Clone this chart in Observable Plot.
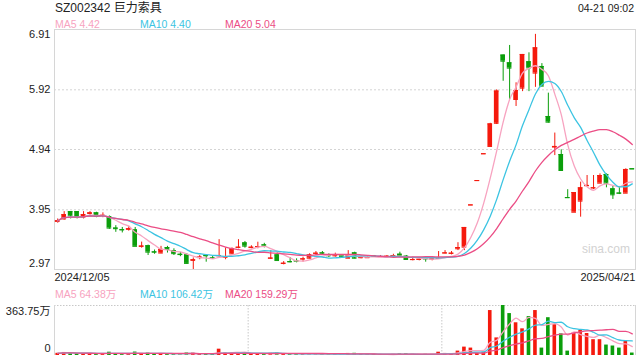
<!DOCTYPE html>
<html><head><meta charset="utf-8">
<script src="https://cdn.jsdelivr.net/npm/d3@7"></script>
<script src="https://cdn.jsdelivr.net/npm/@observablehq/plot@0.6"></script>
<style>
body{margin:0;background:#fff;}
#wrap{position:relative;width:640px;height:360px;overflow:hidden;font-family:Arial,"Liberation Sans","Noto Sans CJK SC",sans-serif;}
.t{position:absolute;white-space:nowrap;line-height:1;}
.p{position:absolute;left:0;}
</style></head><body><div id="wrap"></div>
<script>
const title = "SZ002342 巨力索具";
const stamp = "04-21 09:02";
const dates = ["2024/12/05", "2025/04/21"];
const maNames = ["MA5", "MA10", "MA20"];
const maPeriods = [5, 10, 20];
const maColors = ["#f7a3c0", "#3cc4e2", "#eb4d85"];
const priceMALast = ["4.42", "4.40", "5.04"];
const volMALast = ["64.38万", "106.42万", "159.29万"];
const priceTicks = [2.97, 3.95, 4.94, 5.92, 6.91];
const volTicks = [0, 363.75];
const volTickLabels = ["0", "363.75万"];
const volGrid = [30, 60];
const watermark = "sina.com";

const open = [3.76,3.80,3.92,3.92,3.83,3.89,3.90,3.855,3.84,3.65,
3.625,3.63,3.62,3.35,3.36,3.26,3.24,3.33,3.28,3.22,
3.21,3.12,3.165,3.20,3.16,3.195,3.17,3.227,3.334,3.407,
3.33,3.345,3.375,3.155,3.21,3.07,3.10,3.112,3.143,3.155,
3.236,3.243,3.20,3.195,3.199,3.155,3.243,3.164,3.164,3.19,
3.181,3.186,3.197,3.221,3.188,3.132,3.136,3.147,3.143,3.153,
3.241,3.236,3.31,3.337,4.03,4.43,4.87,4.99,5.37,6.49,
6.363,5.761,5.947,6.38,6.194,6.303,5.482,4.98,4.858,4.15,
3.91,4.092,4.345,4.31,4.387,4.53,4.294,4.225,4.223,4.625];
const high = [3.80,3.92,3.92,3.92,3.92,3.92,3.91,3.90,3.85,3.69,
3.66,3.68,3.66,3.42,3.37,3.29,3.35,3.35,3.31,3.25,
3.23,3.16,3.20,3.216,3.19,3.46,3.325,3.325,3.46,3.43,
3.36,3.418,3.40,3.28,3.243,3.10,3.167,3.145,3.172,3.227,
3.265,3.265,3.227,3.238,3.21,3.28,3.254,3.19,3.18,3.20,
3.20,3.20,3.22,3.254,3.20,3.172,3.16,3.16,3.178,3.265,
3.28,3.265,3.41,3.66,4.03,4.43,4.87,5.37,5.92,6.49,
6.648,6.035,6.50,6.527,6.83,6.35,5.865,5.21,4.935,4.28,
4.234,4.404,4.513,4.513,4.54,4.54,4.333,4.333,4.623,4.625];
const low = [3.73,3.78,3.80,3.80,3.80,3.86,3.82,3.82,3.63,3.58,
3.57,3.60,3.35,3.32,3.20,3.22,3.23,3.24,3.20,3.18,
3.06,2.97,3.13,3.09,3.145,3.17,3.13,3.216,3.31,3.32,
3.31,3.31,3.325,3.134,3.117,3.046,3.079,3.079,3.09,3.145,
3.20,3.20,3.167,3.172,3.17,3.155,3.145,3.145,3.155,3.17,
3.17,3.17,3.166,3.166,3.123,3.112,3.112,3.09,3.112,3.134,
3.227,3.21,3.28,3.28,4.03,4.43,4.87,4.98,5.35,6.06,
5.761,5.646,5.89,5.89,5.96,5.98,5.373,4.84,4.595,4.15,
3.91,3.829,4.333,4.284,4.387,4.311,4.12,4.20,4.223,4.62];
const close = [3.77,3.87,3.85,3.83,3.87,3.90,3.84,3.86,3.65,3.64,
3.62,3.64,3.35,3.355,3.255,3.255,3.30,3.30,3.23,3.215,
3.07,3.13,3.175,3.195,3.155,3.20,3.175,3.309,3.336,3.353,
3.336,3.347,3.37,3.158,3.117,3.073,3.096,3.11,3.145,3.21,
3.238,3.238,3.195,3.199,3.18,3.21,3.155,3.166,3.166,3.188,
3.183,3.188,3.199,3.188,3.134,3.134,3.139,3.145,3.145,3.155,
3.243,3.238,3.33,3.66,4.03,4.43,4.87,5.36,5.90,6.39,
6.276,5.909,6.50,6.28,6.609,5.98,5.389,4.99,4.595,4.15,
4.234,4.311,4.35,4.311,4.513,4.387,4.196,4.223,4.612,4.62];
const volume = [16,22,18,15,14,13,12,11,24,14,
12,11,25,15,18,10,13,11,12,9,
18,17,11,13,8,46,20,18,22,15,
10,12,9,16,17,12,10,8,9,12,
11,9,8,9,7,15,16,10,8,7,
7,6,8,11,12,9,8,9,8,24,
15,12,32,61,54,17,24,327,128,363.75,
305,238,194,283,327,54,275,224,157,32,
167,182,160,115,115,76,69,54,106,18];

const RED = "#f5190d", GREEN = "#0b9e0b";
const rows = close.map((c, i) => {
  const o = open[i];
  const prev = i > 0 ? close[i - 1] : o;
  const up = c > o || (c === o && c >= prev);
  return {i, open: o, high: high[i], low: low[i], close: c, volume: volume[i], up,
          bodyLo: Math.min(o, c), bodyHi: Math.max(o, c)};
});
const n = rows.length;
const xDomain = [-0.5, n - 0.5];
const fill = d => d.up ? RED : GREEN;
const FONT = 'Arial,"Liberation Sans","Noto Sans CJK SC",sans-serif';
const BW = 0.36, VW = 0.28;
const label = d => d.toFixed(2);

const wrap = document.getElementById("wrap");
function addText(txt, css) {
  const el = document.createElement("div");
  el.className = "t";
  el.textContent = txt;
  Object.assign(el.style, css);
  wrap.appendChild(el);
}

const priceSvg = Plot.plot({
  width: 640, height: 290,
  marginTop: 29, marginBottom: 21, marginLeft: 54, marginRight: 5,
  x: {domain: xDomain, axis: null},
  y: {domain: [priceTicks[0], priceTicks[priceTicks.length - 1]], axis: null},
  style: {fontFamily: FONT, fontSize: "11px", color: "#222", background: "transparent", overflow: "visible"},
  marks: [
    Plot.ruleY(priceTicks.slice(1, -1), {stroke: "#d4d4d4", strokeDasharray: "2,2"}),
    Plot.frame({stroke: "#d6d6d6"}),
    Plot.ruleX(rows, {x: "i", y1: "low", y2: "high", stroke: fill, strokeWidth: 1}),
    Plot.rect(rows, {x1: d => d.i - BW, x2: d => d.i + BW, y1: "bodyLo", y2: "bodyHi", fill}),
    Plot.ruleY(rows, {y: "open", x1: d => d.i - BW, x2: d => d.i + BW, stroke: fill}),
    Plot.ruleY(rows, {y: "close", x1: d => d.i - BW, x2: d => d.i + BW, stroke: fill}),
    ...maPeriods.map((k, j) => Plot.lineY(rows, Plot.windowY({k, anchor: "end", reduce: "mean"},
      {x: "i", y: "close", stroke: maColors[j], strokeWidth: 1.3, curve: "monotone-x"}))),
    Plot.text(priceTicks.slice(1, -1), {y: d => d, text: label, frameAnchor: "left", textAnchor: "end", dx: -4, fill: "#222"}),
    Plot.text(priceTicks.slice(-1), {y: d => d, text: label, frameAnchor: "left", textAnchor: "end", dx: -4, dy: 5, fill: "#222"}),
    Plot.text(priceTicks.slice(0, 1), {y: d => d, text: label, frameAnchor: "left", textAnchor: "end", dx: -4, dy: -6, fill: "#222"}),
    Plot.text([dates[0]], {text: d => d, frameAnchor: "bottom-left", textAnchor: "start", dy: 11, fill: "#222"}),
    Plot.text([dates[1]], {text: d => d, frameAnchor: "bottom-right", textAnchor: "end", dy: 11, fill: "#222"})
  ]
});
priceSvg.classList.add("p");
priceSvg.style.top = "0px";
wrap.appendChild(priceSvg);

const volSvg = Plot.plot({
  width: 640, height: 60,
  marginTop: 5, marginBottom: 5, marginLeft: 54, marginRight: 5,
  x: {domain: xDomain, axis: null},
  y: {domain: [volTicks[0], volTicks[1]], axis: null},
  style: {fontFamily: FONT, fontSize: "11px", color: "#222", background: "transparent", overflow: "visible"},
  marks: [
    Plot.ruleY(volTicks.slice(1), {stroke: "#c8c8c8", strokeDasharray: "1.5,1.5"}),
    Plot.ruleX(volGrid, {x: d => d - 0.5, stroke: "#c8c8c8", strokeDasharray: "1.5,1.5"}),
    Plot.ruleX(xDomain, {x: d => d, stroke: "#d6d6d6"}),
    Plot.rectY(rows, {x1: d => d.i - VW, x2: d => d.i + VW, y: "volume", fill}),
    ...maPeriods.map((k, j) => Plot.lineY(rows, Plot.windowY({k, anchor: "end", reduce: "mean"},
      {x: "i", y: "volume", stroke: maColors[j], strokeWidth: 1.3, curve: "monotone-x"}))),
    Plot.text([volTicks[1]], {y: d => d, text: () => volTickLabels[1], frameAnchor: "left", textAnchor: "end", dx: -4, dy: 6, fill: "#222"}),
    Plot.text([volTicks[0]], {y: d => d, text: () => volTickLabels[0], frameAnchor: "left", textAnchor: "end", dx: -4, dy: -7, fill: "#222"})
  ]
});
volSvg.classList.add("p");
volSvg.style.top = "300px";
wrap.appendChild(volSvg);

addText(title, {left: "55px", top: "2px", fontSize: "12px", color: "#222"});
addText(stamp, {right: "6px", top: "3px", fontSize: "10.5px", color: "#222"});
const legendX = [55, 140, 225];
maNames.forEach((nm, j) => {
  addText(nm + " " + priceMALast[j], {left: legendX[j] + "px", top: "18.5px", fontSize: "10.5px", color: maColors[j]});
  addText(nm + " " + volMALast[j], {left: legendX[j] + "px", top: "289px", fontSize: "10.5px", color: maColors[j]});
});
addText(watermark, {left: "582px", top: "243px", fontSize: "12px", color: "#d2d2d2"});
</script></body></html>
